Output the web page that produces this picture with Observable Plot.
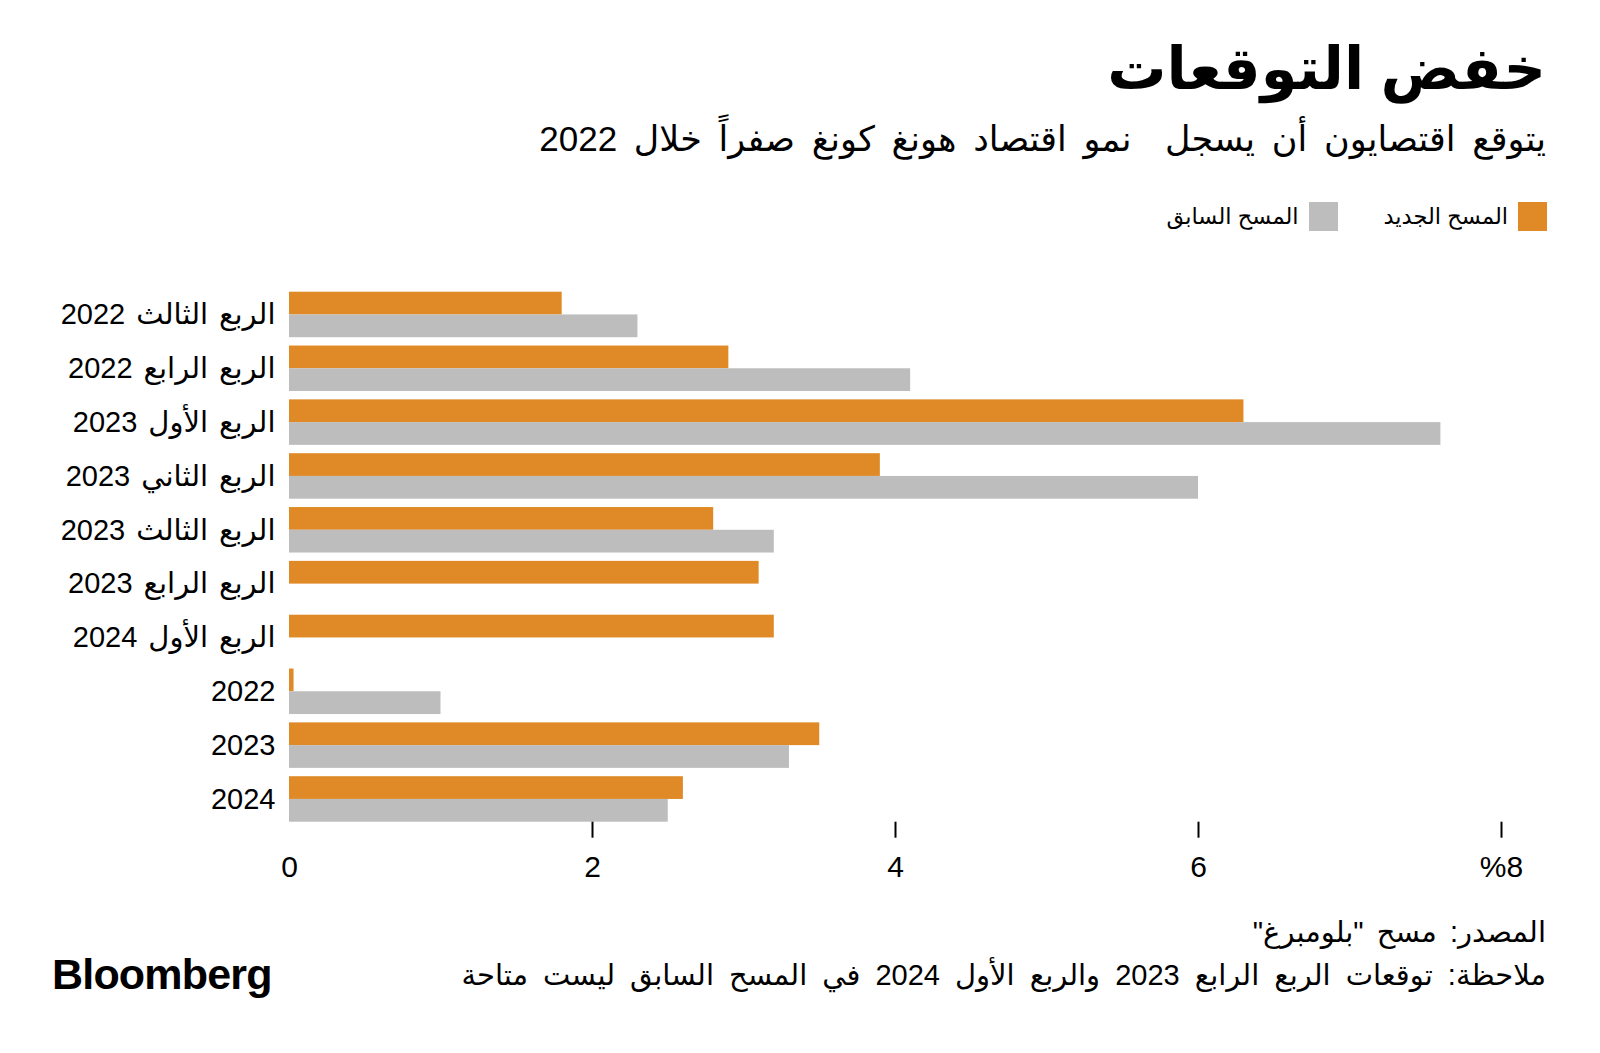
<!DOCTYPE html>
<html>
<head>
<meta charset="utf-8">
<script src="https://cdn.jsdelivr.net/npm/d3@7"></script>
<script src="https://cdn.jsdelivr.net/npm/@observablehq/plot@0.6"></script>
<style>
  html, body { margin: 0; padding: 0; background: #fff; }
  body { width: 1600px; height: 1053px; position: relative; overflow: hidden;
         font-family: "Liberation Sans", "DejaVu Sans", sans-serif; color: #000; }
  .abs { position: absolute; white-space: pre; }
  #title { right: 54px; top: 40px; font-size: 59px; font-weight: bold; line-height: 1; direction: rtl; }
  #subtitle { right: 54px; top: 121px; font-size: 35px; word-spacing: 7px; line-height: 1; direction: rtl; }
  #legend { right: 53px; top: 202px; display: flex; flex-direction: row; direction: rtl; align-items: center; font-size: 22.5px; }
  .sw { width: 29px; height: 29px; display: inline-block; }
  .lt { margin-right: 10px; margin-left: 46px; line-height: 29px; }
  #chart { position: absolute; left: 0; top: 250px; }
  #source { right: 54px; top: 918px; font-size: 29px; word-spacing: 5px; line-height: 1; direction: rtl; }
  #note { right: 54px; top: 961px; font-size: 29px; word-spacing: 7px; line-height: 1; direction: rtl; }
  #logo { left: 52px; top: 953px; font-size: 43px; font-weight: bold; letter-spacing: -0.8px; line-height: 1; }
</style>
</head>
<body>
<div id="title" class="abs"></div>
<div id="subtitle" class="abs"></div>
<div id="legend" class="abs"></div>
<div id="chart"></div>
<div id="source" class="abs"></div>
<div id="note" class="abs"></div>
<div id="logo" class="abs">Bloomberg</div>
<script>
// ---- data ----
const categories = [
  "الربع الثالث 2022",
  "الربع الرابع 2022",
  "الربع الأول 2023",
  "الربع الثاني 2023",
  "الربع الثالث 2023",
  "الربع الرابع 2023",
  "الربع الأول 2024",
  "2022",
  "2023",
  "2024"
];
const newSurvey  = [1.8, 2.9, 6.3, 3.9, 2.8, 3.1, 3.2, 0.03, 3.5, 2.6];
const prevSurvey = [2.3, 4.1, 7.6, 6.0, 3.2, null, null, 1.0, 3.3, 2.5];
const seriesNames = ["المسح الجديد", "المسح السابق"];
const xTicks = [0, 2, 4, 6, 8];
const xTickLabels = ["0", "2", "4", "6", "%8"];
const titleText = "خفض التوقعات";
const subtitleText = "يتوقع اقتصايون أن يسجل  نمو اقتصاد هونغ كونغ صفراً خلال 2022";
const sourceText = "المصدر: مسح \"بلومبرغ\"";
const noteText = "ملاحظة: توقعات الربع الرابع 2023 والربع الأول 2024 في المسح السابق ليست متاحة";

const colors = ["#df8a27", "#bdbdbd"];

// ---- header / footer ----
document.getElementById("title").textContent = titleText;
document.getElementById("subtitle").textContent = subtitleText;
document.getElementById("source").textContent = sourceText;
document.getElementById("note").textContent = noteText;
const legend = document.getElementById("legend");
seriesNames.forEach((n, i) => {
  const sw = document.createElement("span");
  sw.className = "sw"; sw.style.background = colors[i];
  const t = document.createElement("span");
  t.className = "lt"; t.textContent = n;
  legend.appendChild(sw); legend.appendChild(t);
});

// ---- chart ----
const rows = categories.map((c, i) => ({cat: c, nw: newSurvey[i], prev: prevSurvey[i]}));
const W = 1600, H = 650;
const mTop = 41.7, mBottom = 78.3, mLeft = 289, mRight = 99;
const padInner = 0.155;
const step = (H - mTop - mBottom) / (categories.length - padInner);
const half = step * (1 - padInner) / 2;

const chart = Plot.plot({
  width: W, height: H,
  marginTop: mTop, marginBottom: mBottom, marginLeft: mLeft, marginRight: mRight,
  style: {fontFamily: "'Liberation Sans', 'DejaVu Sans', sans-serif", color: "#000", background: "transparent", wordSpacing: "3px"},
  x: {domain: [0, 8], label: null},
  y: {domain: categories, paddingInner: padInner, paddingOuter: 0, round: false, label: null},
  marks: [
    Plot.barX(rows.filter(d => d.nw != null), {x: "nw", y: "cat", fill: colors[0], insetBottom: half, insetTop: 0}),
    Plot.barX(rows.filter(d => d.prev != null), {x: "prev", y: "cat", fill: colors[1], insetTop: half, insetBottom: 0}),
    Plot.axisY({tickSize: 0, tickPadding: 14, fontSize: 29, tickFormat: d => "\u202B" + d + "\u202C"}),
    Plot.axisX({ticks: xTicks.filter(v => v !== 0), tickSize: 16, strokeWidth: 2, tickFormat: () => ""}),
    Plot.axisX({ticks: xTicks, tickSize: 0, tickPadding: 33, fontSize: 30,
                tickFormat: d => xTickLabels[xTicks.indexOf(d)]})
  ]
});
document.getElementById("chart").appendChild(chart);
</script>
</body>
</html>
